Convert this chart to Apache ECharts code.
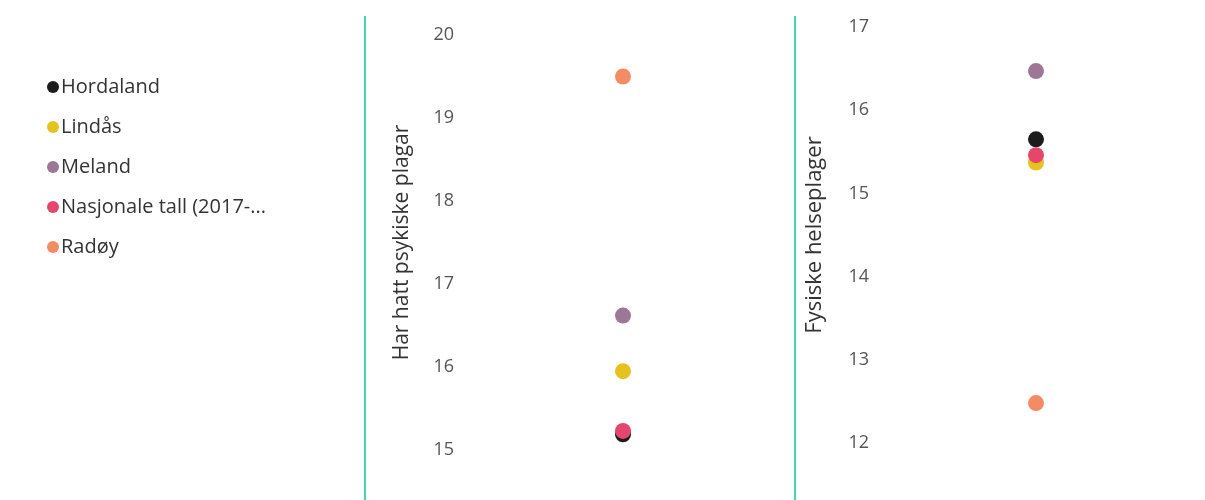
<!DOCTYPE html>
<html>
<head>
<meta charset="utf-8">
<script src="https://cdn.jsdelivr.net/npm/echarts@6/dist/echarts.min.js"></script>
<style>
  html, body { margin: 0; padding: 0; background: #fff; }
  #chart { width: 1205px; height: 500px; }
</style>
</head>
<body>
<div id="chart"></div>
<script>
// 区域名称
const regions = ['Hordaland', 'Lindås', 'Meland', 'Nasjonale tall (2017-2019)', 'Radøy'];
const regionColors = ['#1c1c1c', '#e6c21e', '#9c7896', '#e5466c', '#f38c64'];

// 两个指标
const measureNames = ['Har hatt psykiske plagar', 'Fysiske helseplager'];
const psykiske = [15.19, 15.95, 16.62, 15.23, 19.5];
const fysiske = [15.65, 15.37, 16.47, 15.46, 12.48];

const chart = echarts.init(document.getElementById('chart'));

const font = '"Open Sans", "Noto Sans", sans-serif';

const yAxisBase = {
  type: 'value',
  interval: 1,
  axisLine: { show: false },
  axisTick: { show: false },
  splitLine: { show: false },
  nameLocation: 'middle',
  axisLabel: { color: '#555', fontSize: 18, fontFamily: font, margin: 9 }
};

const series = [];
regions.forEach((name, i) => {
  series.push({
    name: name,
    type: 'scatter',
    xAxisIndex: 0,
    yAxisIndex: 0,
    symbolSize: 16,
    itemStyle: { color: regionColors[i], opacity: 1 },
    data: [[0, psykiske[i]]]
  });
  series.push({
    name: name,
    type: 'scatter',
    xAxisIndex: 1,
    yAxisIndex: 1,
    symbolSize: 16,
    itemStyle: { color: regionColors[i], opacity: 1 },
    data: [[0, fysiske[i]]]
  });
});

chart.setOption({
  animation: false,
  color: regionColors,
  legend: {
    orient: 'vertical',
    left: 42,
    top: 72,
    itemGap: 20,
    itemWidth: 12,
    itemHeight: 12,
    icon: 'circle',
    data: regions,
    formatter: function (name) {
      return name.length > 21 ? name.slice(0, 21) + '...' : name;
    },
    textStyle: { color: '#333', fontSize: 20, fontFamily: font, padding: [0, 0, 0, -3] }
  },
  grid: [
    { left: 463, right: 422, top: 35, bottom: 50 },
    { left: 878, right: 11, top: 27, bottom: 57 }
  ],
  xAxis: [
    { type: 'category', gridIndex: 0, data: [''], show: false },
    { type: 'category', gridIndex: 1, data: [''], show: false }
  ],
  yAxis: [
    Object.assign({}, yAxisBase, { gridIndex: 0, min: 15, max: 20, name: measureNames[0], nameGap: 50,
      nameTextStyle: { color: '#333', fontSize: 21, fontFamily: font } }),
    Object.assign({}, yAxisBase, { gridIndex: 1, min: 12, max: 17, name: measureNames[1], nameGap: 52,
      nameTextStyle: { color: '#333', fontSize: 22, fontFamily: font } })
  ],
  graphic: [
    { type: 'line', shape: { x1: 365, y1: 16, x2: 365, y2: 500 }, style: { stroke: '#45d3b3', lineWidth: 2 } },
    { type: 'line', shape: { x1: 795, y1: 16, x2: 795, y2: 500 }, style: { stroke: '#45d3b3', lineWidth: 2 } }
  ],
  series: series
});
</script>
</body>
</html>
